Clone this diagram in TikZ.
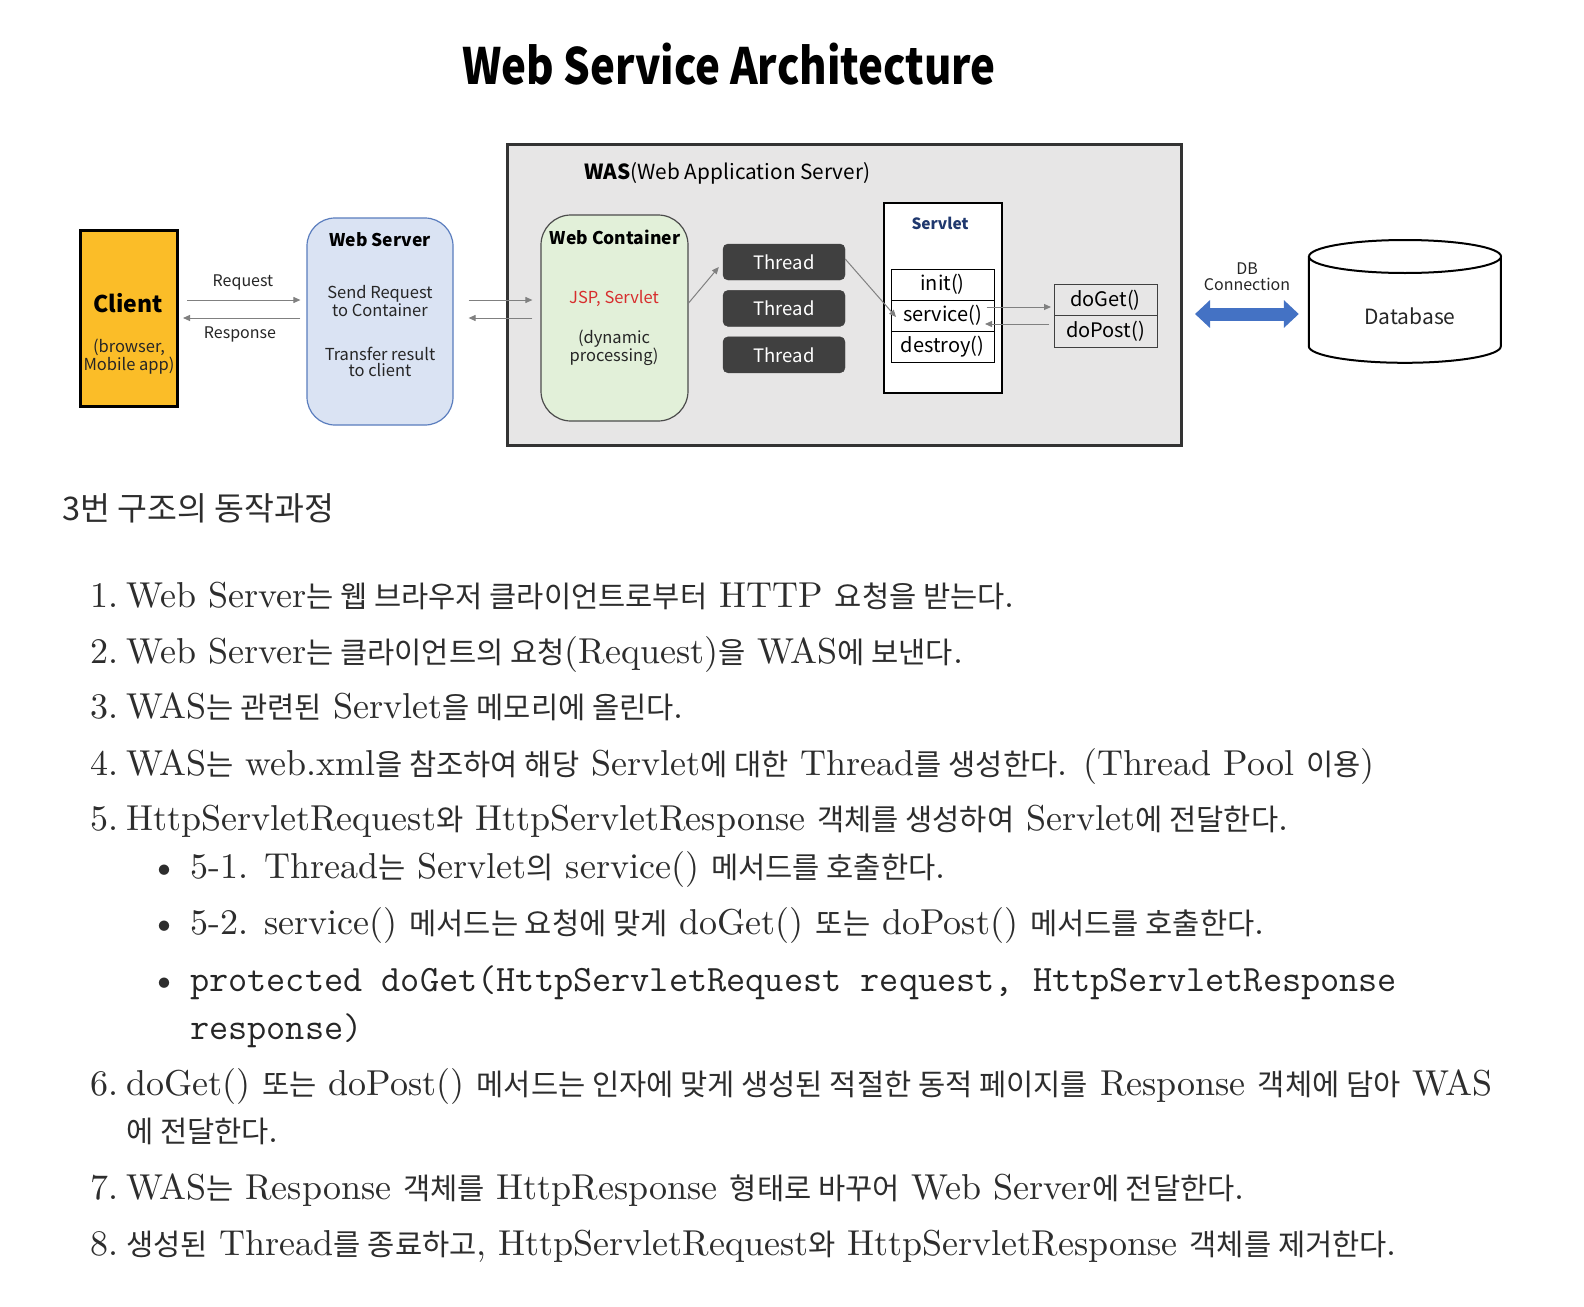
\documentclass[tikz,border=0pt]{standalone}
\usepackage{fontspec}
\setmainfont{lmroman10-regular.otf}
\newfontfamily\dg{Noto Sans CJK KR}
\newfontfamily\titlefont[FakeStretch=0.84]{Noto Sans CJK KR}
\newfontfamily\krf[Scale=0.822]{Noto Sans CJK KR}
\usepackage{tikz}
\usetikzlibrary{arrows.meta,positioning,calc}
\definecolor{clientorange}{RGB}{251,189,40}
\definecolor{wsfill}{RGB}{218,227,243}
\definecolor{wsblue}{RGB}{90,125,190}
\definecolor{wasgray}{RGB}{231,230,230}
\definecolor{contgreen}{RGB}{226,240,217}
\definecolor{threadgray}{RGB}{64,64,64}
\definecolor{servnavy}{RGB}{31,56,110}
\definecolor{jspred}{RGB}{215,45,45}
\definecolor{dbblue}{RGB}{68,114,196}
\definecolor{textgray}{RGB}{45,45,45}
\definecolor{arrowgray}{RGB}{128,128,128}
\newcommand\kor[1]{{\krf #1}}
\newcommand\dgsize[1]{\dg\fontsize{#1}{#1}\selectfont}

\begin{document}
\begin{tikzpicture}[
  x=1pt, y=-1pt,
  >={Triangle[length=7pt, width=6pt]},
  lbl/.style={font=\dgsize{16.5}, align=center, inner sep=0pt, text=black!85},
  clientbox/.style={rectangle, draw=black, line width=3pt, fill=clientorange,
                    minimum width=97pt, minimum height=176pt},
  webbox/.style={rectangle, rounded corners=28pt, draw=wsblue, line width=1.2pt, fill=wsfill,
                 minimum width=146pt, minimum height=207pt},
  wasbox/.style={rectangle, draw=black!80, line width=3pt, fill=wasgray,
                 minimum width=674pt, minimum height=301pt},
  contbox/.style={rectangle, rounded corners=30pt, draw=black!70, line width=1.2pt, fill=contgreen,
                  minimum width=147pt, minimum height=206pt},
  threadbox/.style={rectangle, rounded corners=5pt, fill=threadgray, draw=threadgray,
                    minimum width=122pt, minimum height=36pt, text=white, font=\dgsize{18.5}},
  servbox/.style={rectangle, draw=black, line width=2pt, fill=white,
                  minimum width=118pt, minimum height=190pt},
  methbox/.style={rectangle, draw=black, line width=1pt, fill=white, outer sep=0pt,
                  minimum width=103pt, minimum height=31pt, font=\dgsize{20}},
  dobox/.style={rectangle, draw=black!75, line width=1pt, outer sep=0pt,
                minimum width=103pt, minimum height=31.5pt, font=\dgsize{20}},
  flow/.style={->, draw=arrowgray, line width=1pt},
  dblink/.style={{Triangle[length=15pt, width=27pt]}-{Triangle[length=15pt, width=27pt]},
                 line width=13pt, draw=dbblue},
  body/.style={anchor=base west, inner sep=0pt, font=\fontsize{36}{43}\selectfont, text=textgray},
  mono/.style={anchor=base west, inner sep=0pt, font=\ttfamily\fontsize{37.2}{44}\selectfont, text=black!85},
]
\path[use as bounding box, fill=white] (0,0) rectangle (1584,1306);

\node[font=\titlefont\bfseries\fontsize{50}{56}\selectfont] (title) at (729,64) {Web Service Architecture};

\node[clientbox] (client) at (129,318.5) {};
\node[lbl, font=\dg\bfseries\fontsize{23}{26}\selectfont, text=black] (clientname) at (128,303) {Client};
\node[lbl] (clientsub) at (129,357) {(browser,\\Mobile app)};

\node[webbox] (websrv) at (380,321.5) {};
\node[lbl, font=\dg\bfseries\fontsize{17.5}{21}\selectfont, text=black] (wstitle) at (380,240) {Web Server};
\node[lbl] (wssend) at (380,301) {Send Request\\to Container};
\node[lbl] (wsback) at (380,362) {Transfer result\\to client};

\node[lbl, font=\dgsize{16}] (reqlbl) at (243,282) {Request};
\node[lbl, font=\dgsize{16}] (reslbl) at (240,334) {Response};
\draw[flow] ([xshift=8pt, yshift=18.5pt]client.east) -- ([xshift=-6pt, yshift=21.5pt]websrv.west);
\draw[flow] ([xshift=-6pt, yshift=3.5pt]websrv.west) -- ([xshift=4pt, yshift=0.5pt]client.east);

\node[wasbox] (was) at (844.5,295) {};
\node[lbl, anchor=west, font=\dgsize{20.8}, text=black] (wastitle) at (584,173) {\textbf{WAS}(Web Application Server)};

\node[contbox] (cont) at (614.5,318) {};
\node[lbl, font=\dg\bfseries\fontsize{17.5}{21}\selectfont, text=black] (conttitle) at (615,237) {Web Container};
\node[lbl, text=jspred] (jsp) at (614,298) {JSP, Servlet};
\node[lbl] (dyn) at (614,348) {(dynamic\\processing)};

\draw[flow] ([xshift=15pt, yshift=21.5pt]websrv.east) -- ([xshift=-8pt, yshift=18pt]cont.west);
\draw[flow] ([xshift=-8pt]cont.west) -- ([xshift=15pt, yshift=3.5pt]websrv.east);

\node[threadbox] (th1) at (784,262) {Thread};
\node[threadbox, below=10pt of th1] (th2) {Thread};
\node[threadbox, below=10pt of th2] (th3) {Thread};
\draw[flow] ([yshift=15pt]cont.east) -- ([xshift=-4pt, yshift=-5pt]th1.west);

\node[servbox] (servlet) at (943,298) {};
\node[lbl, font=\dg\bfseries\fontsize{15.5}{19}\selectfont, text=servnavy] (servname) at (940,223) {Servlet};
\node[methbox] (init) at (942.5,284.5) {init()};
\node[methbox, below=0pt of init] (svc) {service()};
\node[methbox, below=0pt of svc] (destroy) {destroy()};
\draw[flow] ([yshift=3pt]th1.east) -- ([xshift=5pt, yshift=-1.5pt]svc.west);

\node[dobox] (doget) at (1105.5,300) {doGet()};
\node[dobox, below=0pt of doget] (dopost) {doPost()};
\draw[flow] ([xshift=-7.5pt, yshift=8.5pt]svc.east) -- ([xshift=-3pt, yshift=-7pt]doget.west);
\draw[flow] ([xshift=-5pt, yshift=7.5pt]dopost.west) -- ([xshift=-9pt, yshift=-8.5pt]svc.east);

\node[minimum width=192pt, minimum height=123pt, inner sep=0pt] (db) at (1405,301.5) {};
\draw[line width=2pt, fill=white] (db.north west) ++(0,16.5) -- ++(0,90) arc (180:0:96 and 16.5) -- ++(0,-90);
\draw[line width=2pt, fill=white] (1405,256.5) ellipse (96 and 16.5);
\node[lbl, font=\dgsize{21}] (dbname) at (1410,316) {Database};
\node[lbl, font=\dgsize{16}] (dblbl) at (1247,277) {DB\\Connection};
\draw[dblink] ([xshift=12pt, yshift=-19pt]was.east) -- ([xshift=-10pt, yshift=-12.5pt]db.west);

\node[anchor=base west, inner sep=0pt, font=\dgsize{32.5}, text=textgray] (steps) at (62,520) {3번 구조의 동작과정};

\node[body] (n1) at (90,607) {1.};
\node[body] (l1) at (126,607) {Web Server\kor{는 웹 브라우저 클라이언트로부터} HTTP \kor{요청을 받는다}.};
\node[body] (n2) at (90,663) {2.};
\node[body] (l2) at (126,663) {Web Server\kor{는 클라이언트의 요청}(Request)\kor{을} WAS\kor{에 보낸다}.};
\node[body] (n3) at (90,718) {3.};
\node[body] (l3) at (126,718) {WAS\kor{는 관련된} Servlet\kor{을 메모리에 올린다}.};
\node[body] (n4) at (90,775) {4.};
\node[body] (l4) at (126,775) {WAS\kor{는} web.xml\kor{을 참조하여 해당} Servlet\kor{에 대한} Thread\kor{를 생성한다}. (Thread Pool \kor{이용})};
\node[body] (n5) at (90,830) {5.};
\node[body] (l5) at (126,830) {HttpServletRequest\kor{와} HttpServletResponse \kor{객체를 생성하여} Servlet\kor{에 전달한다}.};
\node[body] (b1) at (150,878) {\textbullet};
\node[body] (l51) at (190,878) {5-1. Thread\kor{는} Servlet\kor{의} service() \kor{메서드를 호출한다}.};
\node[body] (b2) at (150,934) {\textbullet};
\node[body] (l52) at (190,934) {5-2. service() \kor{메서드는 요청에 맞게} doGet() \kor{또는} doPost() \kor{메서드를 호출한다}.};
\node[body] (b3) at (150,991) {\textbullet};
\node[mono] (l53) at (190,991) {protected doGet(HttpServletRequest request, HttpServletResponse};
\node[mono] (l53b) at (190,1039) {response)};
\node[body] (n6) at (90,1095) {6.};
\node[body] (l6) at (126,1095) {doGet() \kor{또는} doPost() \kor{메서드는 인자에 맞게 생성된 적절한 동적 페이지를} Response \kor{객체에 담아} WAS};
\node[body] (l6b) at (126,1142) {\kor{에 전달한다}.};
\node[body] (n7) at (90,1199) {7.};
\node[body] (l7) at (126,1199) {WAS\kor{는} Response \kor{객체를} HttpResponse \kor{형태로 바꾸어} Web Server\kor{에 전달한다}.};
\node[body] (n8) at (90,1255) {8.};
\node[body] (l8) at (126,1255) {\kor{생성된} Thread\kor{를 종료하고}, HttpServletRequest\kor{와} HttpServletResponse \kor{객체를 제거한다}.};
\end{tikzpicture}
\end{document}
